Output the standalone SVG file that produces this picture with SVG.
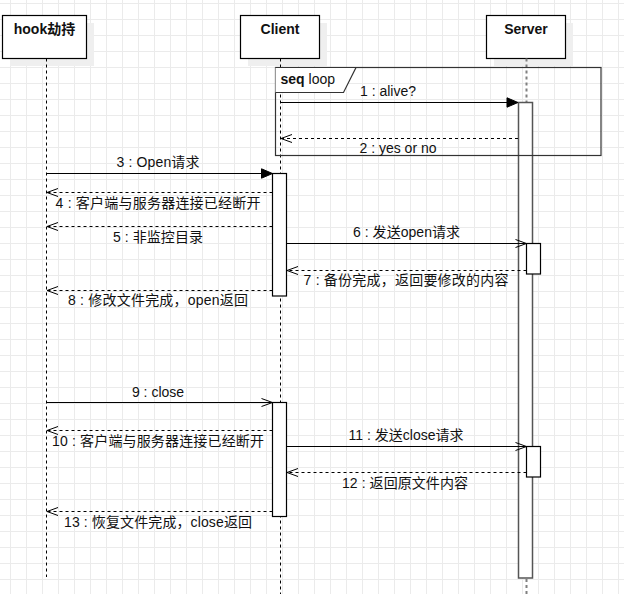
<svg xmlns="http://www.w3.org/2000/svg" width="624" height="594" viewBox="0 0 624 594">
<style>
.t{font-family:"Liberation Sans","Noto Sans CJK SC",sans-serif;font-size:14px;fill:#111;text-anchor:middle}
.title{font-weight:bold}
.box{fill:#fff;stroke:#000;stroke-width:1.2}
.shadow{fill:#efefef}
.life{stroke:#000;stroke-width:1;stroke-dasharray:3 3;fill:none}
.act{fill:#fff;stroke:#000;stroke-width:1.2}
.msg{stroke:#000;stroke-width:1.2;fill:none}
.ret{stroke:#000;stroke-width:1;stroke-dasharray:3 3;fill:none}
</style>
<defs>
<pattern id="grid" x="10" y="3" width="16" height="16" patternUnits="userSpaceOnUse">
<path d="M0.5,0 V16 M0,0.5 H16" stroke="#ebebeb" stroke-width="1" fill="none"/>
</pattern>
<marker id="filled" markerUnits="userSpaceOnUse" markerWidth="12" markerHeight="11" refX="11" refY="5" orient="auto" overflow="visible">
<path d="M0,0.3 L11,5 L0,9.7 z" fill="#000" stroke="#000" stroke-width="1"/>
</marker>
<marker id="open" markerUnits="userSpaceOnUse" markerWidth="12" markerHeight="11" refX="11" refY="5" orient="auto" overflow="visible">
<path d="M0,1 L11,5 L0,9" fill="none" stroke="#000" stroke-width="1"/>
</marker>
</defs>
<rect width="624" height="594" fill="#fff"/>
<rect width="624" height="594" fill="url(#grid)"/>

<g id="hook">
<rect class="shadow" x="10" y="23" width="84" height="43"/>
<rect class="box" x="2.5" y="15.5" width="84" height="43"/>
<text class="t title" x="44.5" y="34">hook劫持</text>
<line class="life" x1="46.5" y1="58.5" x2="46.5" y2="577"/>
</g>

<g id="client">
<rect class="shadow" x="248" y="23" width="79" height="43"/>
<rect class="box" x="240.5" y="15.5" width="79" height="43"/>
<text class="t title" x="280" y="34">Client</text>
<line class="life" x1="280.5" y1="58.5" x2="280.5" y2="594"/>
<rect id="client-act1" class="act" x="272.5" y="173.5" width="14" height="122.5"/>
<rect id="client-act2" class="act" x="272.5" y="402.5" width="14" height="114"/>
</g>

<g id="server">
<rect class="shadow" x="494" y="23" width="79" height="43"/>
<rect class="box" x="486.5" y="15.5" width="79" height="43"/>
<text class="t title" x="526" y="34">Server</text>
<line x1="526.5" y1="58.5" x2="526.5" y2="103" stroke="#808080" stroke-width="2" stroke-dasharray="3 3"/>
<line x1="526.5" y1="579" x2="526.5" y2="594" stroke="#808080" stroke-width="2" stroke-dasharray="3 3"/>
<rect id="server-act" x="518.5" y="102.5" width="14" height="475.5" fill="#fff" stroke="#555" stroke-width="1.5"/>
<rect id="server-act2" class="act" x="526.5" y="243.5" width="14" height="30.5"/>
<rect id="server-act3" class="act" x="526.5" y="446.5" width="14" height="30.5"/>
</g>

<g id="loop">
<rect x="275.5" y="67.5" width="325.5" height="88" fill="none" stroke="#333" stroke-width="1.2"/>
<path d="M275.5,67.5 H356 L343.5,92.5 H275.5" fill="#fff" stroke="#333" stroke-width="1.2"/>
<text class="t" x="280.5" y="84" style="text-anchor:start"><tspan font-weight="bold">seq</tspan> loop</text>
</g>

<g id="connectors">
<line class="msg" x1="280.5" y1="102.5" x2="518" y2="102.5" marker-end="url(#filled)"/>
<text class="t" x="388" y="96">1 : alive?</text>
<line class="ret" x1="518" y1="138.5" x2="281" y2="138.5" marker-end="url(#open)"/>
<text class="t" x="398" y="153">2 : yes or no</text>

<line class="msg" x1="46.5" y1="173.5" x2="272.5" y2="173.5" marker-end="url(#filled)"/>
<text class="t" x="158" y="167" textLength="83" lengthAdjust="spacing">3 : Open请求</text>
<line class="ret" x1="272.5" y1="192.5" x2="47" y2="192.5" marker-end="url(#open)"/>
<text class="t" x="158" y="208" textLength="205" lengthAdjust="spacing">4 : 客户端与服务器连接已经断开</text>
<line class="ret" x1="272.5" y1="226.5" x2="47" y2="226.5" marker-end="url(#open)"/>
<text class="t" x="158" y="242" textLength="90" lengthAdjust="spacing">5 : 非监控目录</text>
<line class="msg" x1="286.5" y1="243.5" x2="526.5" y2="243.5" marker-end="url(#open)"/>
<text class="t" x="406.5" y="237" textLength="107" lengthAdjust="spacing">6 : 发送open请求</text>
<line class="ret" x1="526.5" y1="270.5" x2="287" y2="270.5" marker-end="url(#open)"/>
<text class="t" x="406" y="285" textLength="205" lengthAdjust="spacing">7 : 备份完成，返回要修改的内容</text>
<line class="ret" x1="272.5" y1="290.5" x2="47" y2="290.5" marker-end="url(#open)"/>
<text class="t" x="158" y="305" textLength="180" lengthAdjust="spacing">8 : 修改文件完成，open返回</text>

<line class="msg" x1="46.5" y1="402.5" x2="272.5" y2="402.5" marker-end="url(#open)"/>
<text class="t" x="158" y="396.5">9 : close</text>
<line class="ret" x1="272.5" y1="430.5" x2="47" y2="430.5" marker-end="url(#open)"/>
<text class="t" x="158" y="446" textLength="212" lengthAdjust="spacing">10 : 客户端与服务器连接已经断开</text>
<line class="msg" x1="286.5" y1="446.5" x2="526.5" y2="446.5" marker-end="url(#open)"/>
<text class="t" x="406" y="440" textLength="115" lengthAdjust="spacing">11 : 发送close请求</text>
<line class="ret" x1="526.5" y1="472.5" x2="287" y2="472.5" marker-end="url(#open)"/>
<text class="t" x="405" y="488" textLength="126" lengthAdjust="spacing">12 : 返回原文件内容</text>
<line class="ret" x1="272.5" y1="511.5" x2="47" y2="511.5" marker-end="url(#open)"/>
<text class="t" x="158" y="527" textLength="188" lengthAdjust="spacing">13 : 恢复文件完成，close返回</text>
</g>
</svg>
